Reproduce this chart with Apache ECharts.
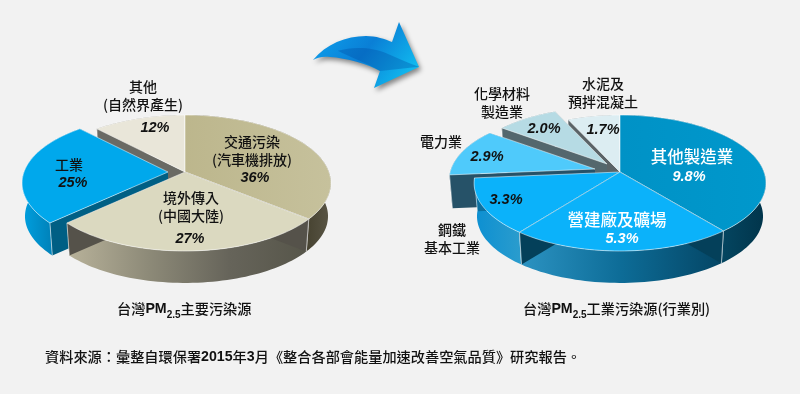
<!DOCTYPE html>
<html>
<head>
<meta charset="utf-8">
<script src="https://cdn.jsdelivr.net/npm/echarts@6/dist/echarts.min.js"></script>
<style>
  html, body { margin: 0; padding: 0; background: #f2f2f2; }
  #chart { width: 800px; height: 394px; }
</style>
</head>
<body>
<div id="chart"></div>
<script>
// 數據
var mainNames = ['交通污染\n(汽車機排放)', '境外傳入\n(中國大陸)', '工業', '其他\n(自然界產生)'];
var mainValues = [36, 27, 25, 12];
var industryNames = ['其他製造業', '營建廠及礦場', '鋼鐵\n基本工業', '電力業', '化學材料\n製造業', '水泥及\n預拌混凝土'];
var industryValues = [9.8, 5.3, 3.3, 2.9, 2.0, 1.7];
var titleMain = ['台灣', 'PM', '2.5', '主要污染源'];
var titleIndustry = ['台灣', 'PM', '2.5', '工業污染源(行業別)'];
var sourceNote = ['資料來源：彙整自環保署', '2015', '年', '3', '月《整合各部會能量加速改善空氣品質》研究報告。'];

// 版面與樣式
var CJK = '"Noto Sans CJK TC", "Liberation Sans", sans-serif';
var NUM = '"Liberation Sans", Arial, sans-serif';
var PERSP = 0.162, RX = 144, RY = 66.2, DEPTH = 33.5, BASE_SCALE = 0.98;

function wall(x1, x2, stops) {
    return {
        type: 'linear', global: true, x: x1, y: 0, x2: x2, y2: 0,
        colorStops: stops.map(function (c, i) { return { offset: i / (stops.length - 1), color: c }; })
    };
}

var mainPie = {
    cx: 185, cy: 172, digits: 0,
    order: [3, 2, 0, 1], // 繪製先後
    offset: [[0, 0], [0, 0], [-17, 0], [0, 0]],
    top: [wall(180, 330, ['#bcb68c', '#c6c19c']), '#dbd9c0', '#00a8ec', '#e9e6d9'],
    side: [
        wall(305, 330, ['#45412f', '#595545']),
        wall(68, 310, ['#b8b29a', '#8d8a78', '#66645a', '#565549']),
        wall(22, 60, ['#00a0e0', '#0079ae']),
        '#6a6a64'
    ],
    cut: ['#55524a', '#55524a', '#005f84', '#6a6a64'],
    nameColor: ['#111', '#111', '#111', '#111'],
    namePos: [[252, 150.5], [191, 206.5], [69, 165], [143, 96]],
    pctPos: [[255, 178], [190, 239], [73, 183], [155, 128]],
    pctColor: ['#111', '#111', '#111', '#111']
};

var industryPie = {
    cx: 620, cy: 172, digits: 1,
    order: [5, 4, 3, 0, 2, 1],
    offset: [[0, 0], [0, 0], [0, 0], [-25, -3], [-13, -8], [0, 0]],
    top: [wall(620, 766, ['#0092c6', '#0098cc']), '#0bb2fa', '#0bb2fa', '#4fcafb', '#b6dbe4', '#dcedf2'],
    side: [
        wall(723, 766, ['#044560', '#01344a']),
        wall(520, 723, ['#2c93c2', '#0d6c97', '#044564']),
        wall(473, 520, ['#0b8fd2', '#2a9ccd']),
        '#265268',
        '#54676d',
        '#5a6367'
    ],
    cut: ['#04405a', '#04405a', '#0b70a0', '#265268', '#54676d', '#5a6367'],
    nameColor: ['#fff', '#fff', '#111', '#111', '#111', '#111'],
    namePos: [[692, 157], [617, 220], [452, 238.5], [441, 142], [502, 103], [603, 93]],
    pctPos: [[689, 177], [622, 239], [506, 200], [487, 157], [544, 129], [603, 130]],
    pctColor: ['#fff', '#fff', '#111', '#111', '#111', '#111']
};

// 圓盤上一點 → 畫面座標 (帶透視)
function project(pie, theta, off, isBase) {
    var u = Math.sin(theta), v = -Math.cos(theta);
    var d = 1 - PERSP * v;
    var s = isBase ? BASE_SCALE : 1;
    return [
        pie.cx + off[0] + RX * u / d * s,
        pie.cy + off[1] + RY * v / d * s + (isBase ? DEPTH : 0)
    ];
}

function arc(pie, a0, a1, off, isBase) {
    var pts = [];
    var n = Math.max(2, Math.ceil((a1 - a0) / 0.03));
    for (var i = 0; i <= n; i++) {
        pts.push(project(pie, a0 + (a1 - a0) * i / n, off, isBase));
    }
    return pts;
}

function makeRenderItem(pie, values, names) {
    var total = values.reduce(function (a, b) { return a + b; }, 0);
    return function (params, api) {
        var i = params.dataIndex;
        var value = api.value(0);
        var before = 0;
        for (var k = 0; k < i; k++) before += values[k];
        var a0 = before / total * Math.PI * 2;
        var a1 = (before + value) / total * Math.PI * 2;
        var off = pie.offset[i];
        var z = pie.order.indexOf(i) * 10;

        var apex = [pie.cx + off[0], pie.cy + off[1]];
        var apexBase = [apex[0], apex[1] + DEPTH];
        var topArc = arc(pie, a0, a1, off, false);
        var baseArc = arc(pie, a0, a1, off, true);
        var first = topArc[0], last = topArc[topArc.length - 1];
        var firstB = baseArc[0], lastB = baseArc[baseArc.length - 1];

        var seam = 'rgba(255,255,255,0.55)';
        var children = [
            { type: 'polygon', z2: z, shape: { points: topArc.concat(baseArc.slice().reverse()) }, style: { fill: pie.side[i] } },
            { type: 'polygon', z2: z + 1, shape: { points: [apex, first, firstB, apexBase] }, style: { fill: pie.cut[i] } },
            { type: 'polygon', z2: z + 1, shape: { points: [apex, last, lastB, apexBase] }, style: { fill: pie.cut[i] } },
            { type: 'line', z2: z + 2, shape: { x1: first[0], y1: first[1], x2: firstB[0], y2: firstB[1] }, style: { stroke: seam, lineWidth: 1 } },
            { type: 'line', z2: z + 2, shape: { x1: last[0], y1: last[1], x2: lastB[0], y2: lastB[1] }, style: { stroke: seam, lineWidth: 1 } },
            {
                type: 'polygon', z2: z + 3,
                shape: { points: [apex].concat(topArc) },
                style: { fill: pie.top[i], stroke: 'rgba(255,255,255,0.65)', lineWidth: 0.8 }
            },
            {
                type: 'text', z2: 200,
                x: pie.namePos[i][0], y: pie.namePos[i][1],
                style: {
                    text: names[i], fill: pie.nameColor[i],
                    font: (i < 2 && pie.digits ? '500 16.5px ' : '500 14px ') + CJK,
                    align: 'center', verticalAlign: 'middle', lineHeight: 18
                }
            },
            {
                type: 'text', z2: 200,
                x: pie.pctPos[i][0], y: pie.pctPos[i][1],
                style: {
                    text: value.toFixed(pie.digits) + '%', fill: pie.pctColor[i],
                    font: 'italic bold 14.5px ' + NUM, align: 'center', verticalAlign: 'middle'
                }
            }
        ];
        return { type: 'group', children: children };
    };
}

function pieSeries(pie, values, names) {
    return {
        type: 'custom',
        coordinateSystem: 'none',
        silent: true,
        animation: false,
        clip: false,
        data: values.map(function (v) { return [v]; }),
        renderItem: makeRenderItem(pie, values, names)
    };
}

var richStyles = {
    a: { fontSize: 14.2, fontWeight: 500, fontFamily: CJK, fill: '#111', verticalAlign: 'top', lineHeight: 18 },
    b: { fontSize: 14.2, fontWeight: 'bold', fontFamily: NUM, fill: '#111', verticalAlign: 'top', lineHeight: 18 },
    s: { fontSize: 10, fontWeight: 'bold', fontFamily: NUM, fill: '#111', verticalAlign: 'top', lineHeight: 10, padding: [8, 0, 0, 0] }
};

function titleText(parts, x, y) {
    return {
        type: 'text', left: x, top: y, z: 50, silent: true,
        style: {
            text: '{a|' + parts[0] + '}{b|' + parts[1] + '}{s|' + parts[2] + '}{a|' + parts[3] + '}',
            rich: richStyles
        }
    };
}

// 箭頭
var arrowSeries = {
    type: 'custom',
    coordinateSystem: 'none',
    silent: true,
    animation: false,
    data: [[0]],
    renderItem: function () {
        return {
            type: 'group',
            children: [
                {
                    type: 'path', z2: 5,
                    shape: {
                        pathData: 'M313 60 C326 44 346 36 366 36 C376 36 385 39 392 42 L399 22 L419 67 L374 88 L380 71 C368 64 346 58 330 57 C322 56 317 58 313 60 Z',
                        layout: 'cover', x: 313, y: 22, width: 106, height: 66
                    },
                    style: {
                        fill: { type: 'linear', x: 0, y: 0, x2: 0.8, y2: 1, colorStops: [
                            { offset: 0, color: '#0ea5ef' }, { offset: 0.55, color: '#0a7fd6' }, { offset: 1, color: '#10b8ee' }
                        ] },
                        shadowColor: 'rgba(0,0,0,0.45)', shadowBlur: 5, shadowOffsetX: 2, shadowOffsetY: 3
                    }
                },
                {
                    type: 'path', z2: 6,
                    shape: {
                        pathData: 'M338 52 C352 48 372 48 388 55 C400 60 410 64 419 67 L380 71 C368 64 350 58 338 52 Z',
                        layout: 'cover', x: 338, y: 48, width: 81, height: 23
                    },
                    style: { fill: 'rgba(0,70,160,0.32)' }
                }
            ]
        };
    }
};

var option = {
    backgroundColor: '#f2f2f2',
    animation: false,
    series: [
        pieSeries(mainPie, mainValues, mainNames),
        pieSeries(industryPie, industryValues, industryNames),
        arrowSeries
    ],
    graphic: [
        titleText(titleMain, 117, 302),
        titleText(titleIndustry, 523, 302),
        {
            type: 'text', left: 45, top: 350, z: 50, silent: true,
            style: {
                text: '{a|' + sourceNote[0] + '}{b|' + sourceNote[1] + '}{a|' + sourceNote[2] + '}{b|' + sourceNote[3] + '}{a|' + sourceNote[4] + '}',
                rich: richStyles
            }
        }
    ]
};

var chart = echarts.init(document.getElementById('chart'));
chart.setOption(option);
</script>
</body>
</html>
